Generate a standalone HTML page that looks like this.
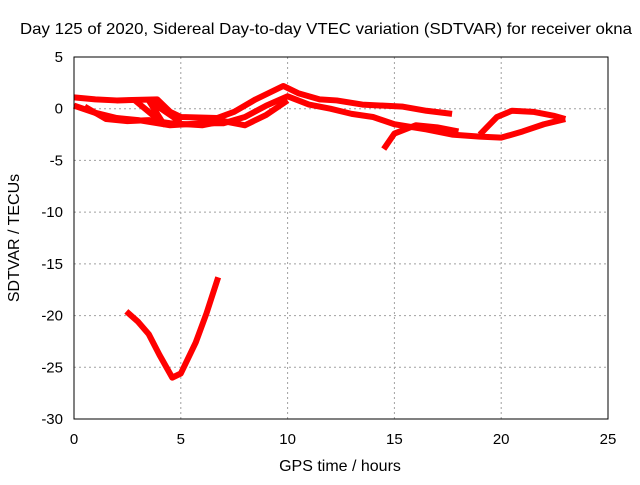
<!DOCTYPE html>
<html><head><meta charset="utf-8"><style>
body{margin:0;background:#fff;}
svg text{font-family:"Liberation Sans",sans-serif;font-size:15px;fill:#000;}
svg text.big{font-size:16px;}
</style></head><body>
<svg width="640" height="480">
<g id="grid"></g>
<g id="series"></g>
<rect x="74" y="57" width="534" height="362" fill="none" stroke="#000"/>
<g id="axes"></g>
<text class="big" x="326" y="34" text-anchor="middle" textLength="612" lengthAdjust="spacingAndGlyphs">Day 125 of 2020, Sidereal Day-to-day VTEC variation (SDTVAR) for receiver okna</text>
<text class="big" x="340" y="471" text-anchor="middle">GPS time / hours</text>
<text class="big" transform="translate(19,238) rotate(-90)" text-anchor="middle">SDTVAR / TECUs</text>
</svg>
<script>
const xTicks=[0,5,10,15,20,25];
const yTicks=[5,0,-5,-10,-15,-20,-25,-30];
const seriesUpper=[[0,1.1],[1,0.9],[2,0.8],[3.9,0.9],[4.5,-0.3],[5,-0.8],[6.7,-0.9],[7.5,-0.3],[8.5,0.9],[9.8,2.2],[10.5,1.5],[11.5,0.9],[12.3,0.8],[13.5,0.4],[15.4,0.2],[16.5,-0.2],[17.7,-0.5]];
const seriesLower=[[0,0.3],[1,-0.4],[2,-0.9],[3,-1.1],[4.5,-1.6],[6,-1.4],[7,-1.4],[8,-0.8],[9,0.3],[10,1.2],[11,0.4],[12,0],[13,-0.5],[14,-0.8],[15,-1.5],[16.5,-2],[17.7,-2.5],[19,-2.7],[20,-2.8],[21,-2.2],[22,-1.5],[23,-1]];
const seriesMid=[[0.5,0.2],[1.5,-1],[2.5,-1.2],[3.5,-1.1],[4.5,-1.4],[6,-1.6],[7,-1.2],[8,-1.6],[9,-0.6],[10,0.8]];
const seriesLoop=[[2.8,0.9],[4.2,-1.5],[3.5,0.8],[5,-1.3]];
const seriesRise=[[14.5,-3.9],[15,-2.4],[16,-1.6],[17,-1.8],[18,-2.2]];
const seriesTail=[[19,-2.5],[19.8,-0.8],[20.5,-0.2],[21.5,-0.3],[22.5,-0.7],[23,-1]];
const seriesDip=[[2.45,-19.6],[3,-20.6],[3.5,-21.8],[4,-23.8],[4.6,-26],[5,-25.6],[5.7,-22.6],[6.2,-19.8],[6.75,-16.3]];
const X=v=>74+v*534/25, Y=v=>57+(5-v)*362/35;
const NS='http://www.w3.org/2000/svg';
const grid=document.getElementById('grid'),axes=document.getElementById('axes'),ser=document.getElementById('series');
function mk(t,a,p){const e=document.createElementNS(NS,t);for(const k in a)e.setAttribute(k,a[k]);p.appendChild(e);return e;}
xTicks.forEach(v=>{
 if(v>0&&v<25){const l=mk('line',{x1:X(v),x2:X(v),y1:57,y2:419,stroke:'#a0a0a0','stroke-dasharray':'2,3'},grid);
 
 }
 const t=mk('text',{x:X(v),y:444,'text-anchor':'middle'},axes);t.textContent=v;
 
 
});
yTicks.forEach(v=>{
 if(v<5&&v>-30){const l=mk('line',{x1:74,x2:608,y1:Y(v),y2:Y(v),stroke:'#a0a0a0','stroke-dasharray':'2,3'},grid);
 
 }
 const t=mk('text',{x:63,y:Y(v)+5,'text-anchor':'end'},axes);t.textContent=v;
 
 
});
[seriesUpper,seriesLower,seriesMid,seriesLoop,seriesRise,seriesTail,seriesDip].forEach(s=>{
 const p=mk('polyline',{points:s.map(d=>X(d[0])+','+Y(d[1])).join(' '),fill:'none',stroke:'#ff0000','stroke-width':6,'stroke-linejoin':'round'},ser);
 
 
});
</script>
</body></html>
